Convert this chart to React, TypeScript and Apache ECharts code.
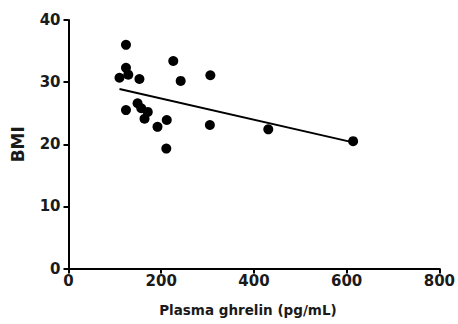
import React, { useEffect, useRef } from "react";
import * as echarts from "echarts";

const ghrelin = [124, 124, 110, 129, 153, 226, 242, 306, 124, 149, 157, 171, 164, 192, 212, 211, 305, 431, 614];
const bmi = [36.0, 32.3, 30.7, 31.2, 30.5, 33.4, 30.2, 31.1, 25.5, 26.6, 25.8, 25.2, 24.1, 22.8, 23.9, 19.3, 23.1, 22.4, 20.5];
const fitX = [110, 614];
const fitY = [28.9, 20.3];
const xTicks = [0, 200, 400, 600, 800];
const yTicks = [0, 10, 20, 30, 40];

export default function App() {
  const ref = useRef<HTMLDivElement>(null);
  useEffect(() => {
    if (!ref.current) return;
    const chart = echarts.init(ref.current, undefined, { renderer: "svg" });
    const font = "DejaVu Sans";
    const txt = "#1a1a1a";
    chart.setOption({
      animation: false,
      backgroundColor: "#ffffff",
      grid: { left: 68.5, right: 15.3, top: 20, bottom: 55.5 },
      xAxis: {
        type: "value",
        min: xTicks[0],
        max: xTicks[xTicks.length - 1],
        interval: 200,
        name: "Plasma ghrelin (pg/mL)",
        nameLocation: "middle",
        nameGap: 34,
        nameTextStyle: { fontFamily: font, fontWeight: "bold", fontSize: 13.5, color: txt, padding: [0, 12, 0, 0] },
        axisLine: { show: true, lineStyle: { color: "#000", width: 2 } },
        axisTick: { show: true, length: 5, lineStyle: { color: "#000", width: 2 } },
        axisLabel: { fontFamily: font, fontWeight: "bold", fontSize: 15, color: txt, margin: 5 },
        splitLine: { show: false },
      },
      yAxis: {
        type: "value",
        min: yTicks[0],
        max: yTicks[yTicks.length - 1],
        interval: 10,
        name: "BMI",
        nameLocation: "middle",
        nameGap: 42,
        nameRotate: 90,
        nameTextStyle: { fontFamily: font, fontWeight: "bold", fontSize: 17, color: txt },
        axisLine: { show: true, lineStyle: { color: "#000", width: 2 } },
        axisTick: { show: true, length: 5, lineStyle: { color: "#000", width: 2 } },
        axisLabel: { fontFamily: font, fontWeight: "bold", fontSize: 15, color: txt, margin: 8 },
        splitLine: { show: false },
      },
      series: [
        {
          type: "line",
          data: fitX.map((x, i) => [x, fitY[i]]),
          symbol: "none",
          lineStyle: { color: "#000", width: 2 },
          z: 1,
        },
        {
          type: "scatter",
          data: ghrelin.map((x, i) => [x, bmi[i]]),
          symbol: "circle",
          symbolSize: 10,
          itemStyle: { color: "#000", opacity: 1 },
          z: 2,
        },
      ],
    });
    return () => chart.dispose();
  }, []);
  return <div ref={ref} style={{ width: 458, height: 324, position: "absolute", left: 0, top: 0 }} />;
}
